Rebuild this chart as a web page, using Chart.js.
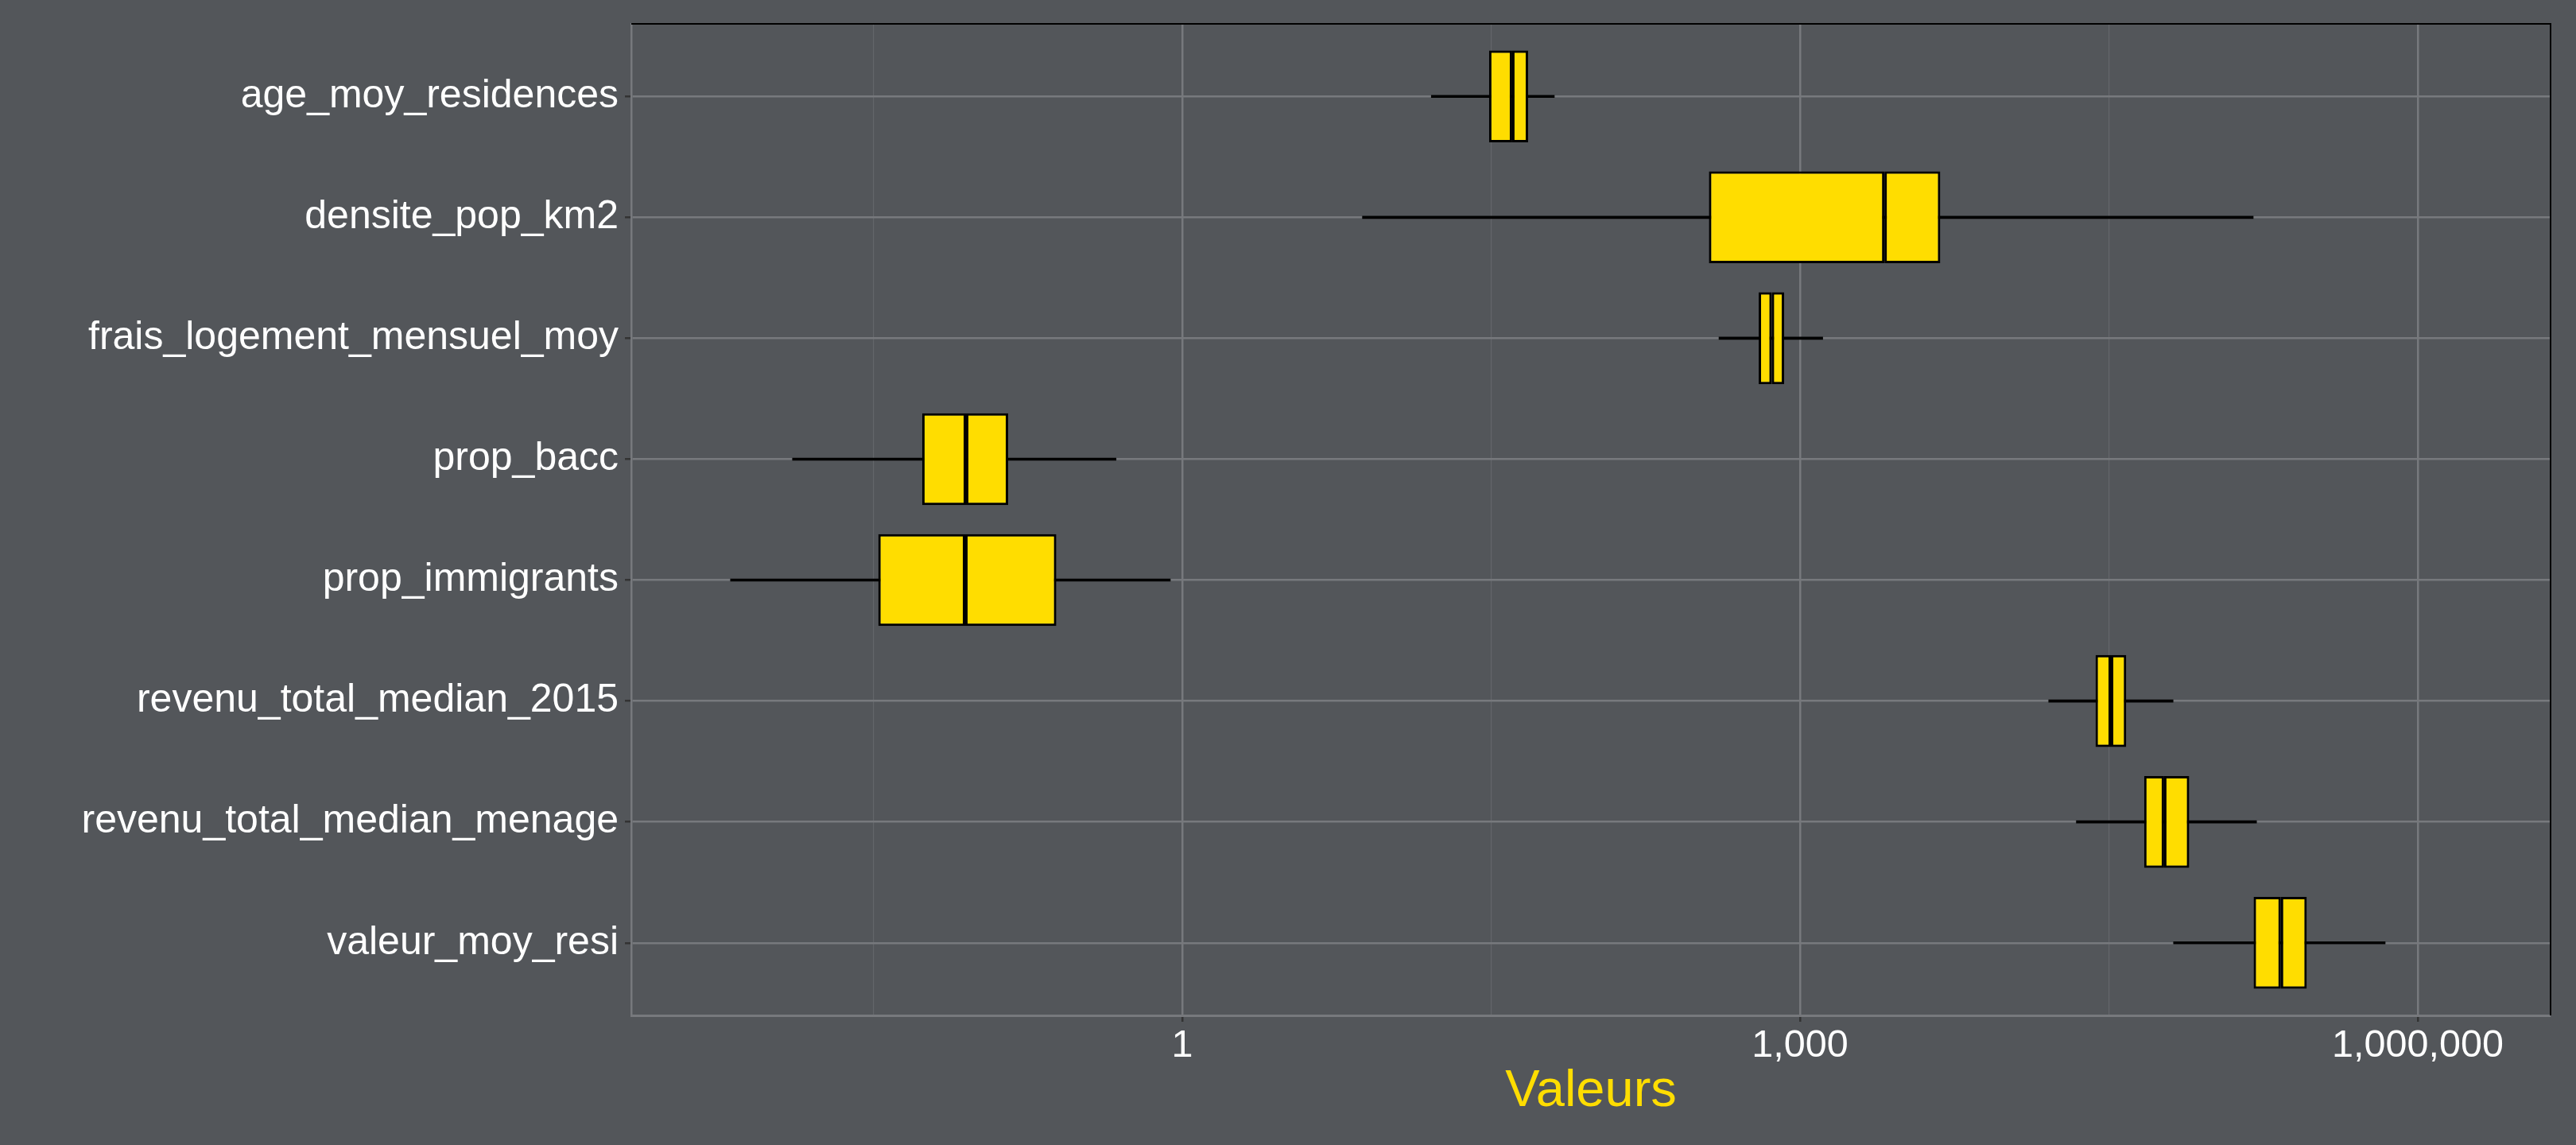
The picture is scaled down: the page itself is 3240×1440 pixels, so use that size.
<!DOCTYPE html>
<html><head><meta charset="utf-8">
<script src="https://cdn.jsdelivr.net/npm/chart.js@4.4.1/dist/chart.umd.min.js"></script>
<style>html,body{margin:0;padding:0;background:#53565A;} canvas{display:block;}</style>
</head><body>
<canvas id="c" width="3240" height="1440"></canvas>
<script>
// ---- data ----
const categories = [
  'age_moy_residences',
  'densite_pop_km2',
  'frais_logement_mensuel_moy',
  'prop_bacc',
  'prop_immigrants',
  'revenu_total_median_2015',
  'revenu_total_median_menage',
  'valeur_moy_resi'
];
const whiskerLow  = [16.2, 7.5, 404, 0.0128, 0.0064, 16130, 21980, 65150];
const q1          = [30.9, 361, 630, 0.0546, 0.0334, 27230, 46900, 159500];
const median      = [40.0, 2570, 729, 0.0891, 0.0883, 32340, 58620, 216300];
const q3          = [47.8, 4800, 837, 0.1427, 0.2446, 38380, 77650, 289000];
const whiskerHigh = [64.1, 158800, 1289, 0.477, 0.875, 64830, 164800, 694600];
const majorTicks = [1, 1000, 1000000];
const minorTicks = [Math.pow(10, -1.5), Math.pow(10, 1.5), Math.pow(10, 4.5)];
const xTitle = 'Valeurs';

// ---- styling ----
const YELLOW = '#FFDD00';
const GRID_MAJOR = '#77797D';
const GRID_MINOR = '#63666A';
const FONT = '"Liberation Sans", Arial, sans-serif';

const rows = categories.map((_, i) => i + 1);
const whiskerData = rows.map((y, i) => ({x: [whiskerLow[i], whiskerHigh[i]], y}));
const lowerBoxData = rows.map((y, i) => ({x: [q1[i], median[i]], y}));
const upperBoxData = rows.map((y, i) => ({x: [median[i], q3[i]], y}));
const isMajor = (v) => majorTicks.some(m => Math.abs(m - v) < 1e-9 * m);

const panelBorder = {
  id: 'panelBorder',
  afterDatasetsDraw(chart) {
    const {ctx, chartArea: a} = chart;
    ctx.save();
    ctx.strokeStyle = '#000';
    ctx.lineWidth = 2;
    ctx.beginPath();
    ctx.moveTo(a.left, a.top);
    ctx.lineTo(a.right, a.top);
    ctx.lineTo(a.right, a.bottom);
    ctx.stroke();
    ctx.restore();
  }
};

new Chart(document.getElementById('c'), {
  type: 'bar',
  data: {
    datasets: [
      {label: 'lower', data: lowerBoxData, backgroundColor: YELLOW, borderColor: '#000', borderWidth: 3,
       borderSkipped: false, grouped: false, categoryPercentage: 1, barPercentage: 0.76, order: 1},
      {label: 'upper', data: upperBoxData, backgroundColor: YELLOW, borderColor: '#000', borderWidth: 3,
       borderSkipped: false, grouped: false, categoryPercentage: 1, barPercentage: 0.76, order: 1},
      {label: 'whisker', data: whiskerData, backgroundColor: '#000', borderWidth: 0,
       grouped: false, maxBarThickness: 3, categoryPercentage: 1, barPercentage: 1, order: 2}
    ]
  },
  options: {
    indexAxis: 'y',
    responsive: false,
    animation: false,
    layout: {padding: {left: 0, right: 32, top: 30, bottom: 28}},
    plugins: {legend: {display: false}, tooltip: {enabled: false}},
    scales: {
      x: {
        type: 'logarithmic',
        position: 'bottom',
        min: 0.00211,
        max: 4.414e6,
        afterBuildTicks(scale) {
          scale.ticks = [...minorTicks, ...majorTicks].sort((a, b) => a - b).map(v => ({value: v}));
        },
        afterFit(scale) { scale.height = 135; scale.paddingLeft = 0; scale.paddingRight = 0; },
        ticks: {
          color: '#FFFFFF',
          font: {family: FONT, size: 48.5},
          padding: 2,
          autoSkip: false,
          maxRotation: 0,
          callback: (v) => isMajor(v) ? Number(v).toLocaleString('en-US') : ''
        },
        grid: {
          color: (c) => (c.tick && isMajor(c.tick.value)) ? GRID_MAJOR : GRID_MINOR,
          lineWidth: (c) => (c.tick && isMajor(c.tick.value)) ? 2.5 : 1.2,
          tickColor: (c) => (c.tick && isMajor(c.tick.value)) ? '#333333' : 'rgba(0,0,0,0)',
          tickLength: 8,
          drawTicks: true
        },
        border: {color: GRID_MAJOR, width: 3},
        title: {display: true, text: xTitle, color: YELLOW, font: {family: FONT, size: 65}, padding: 0}
      },
      y: {
        type: 'linear',
        reverse: true,
        offset: false,
        min: 0.4,
        max: 8.6,
        afterBuildTicks(scale) { scale.ticks = rows.map(v => ({value: v})); },
        afterFit(scale) { scale.width = 794; scale.paddingTop = 0; scale.paddingBottom = 0; },
        ticks: {
          color: '#FFFFFF',
          font: {family: FONT, size: 50},
          padding: 8,
          autoSkip: false,
          callback: (v) => categories[Math.round(v) - 1] || ''
        },
        grid: {offset: false, color: GRID_MAJOR, lineWidth: 2.5, tickColor: '#333333', tickLength: 8},
        border: {color: GRID_MAJOR, width: 2.5}
      }
    }
  },
  plugins: [panelBorder]
});
</script>
</body></html>
